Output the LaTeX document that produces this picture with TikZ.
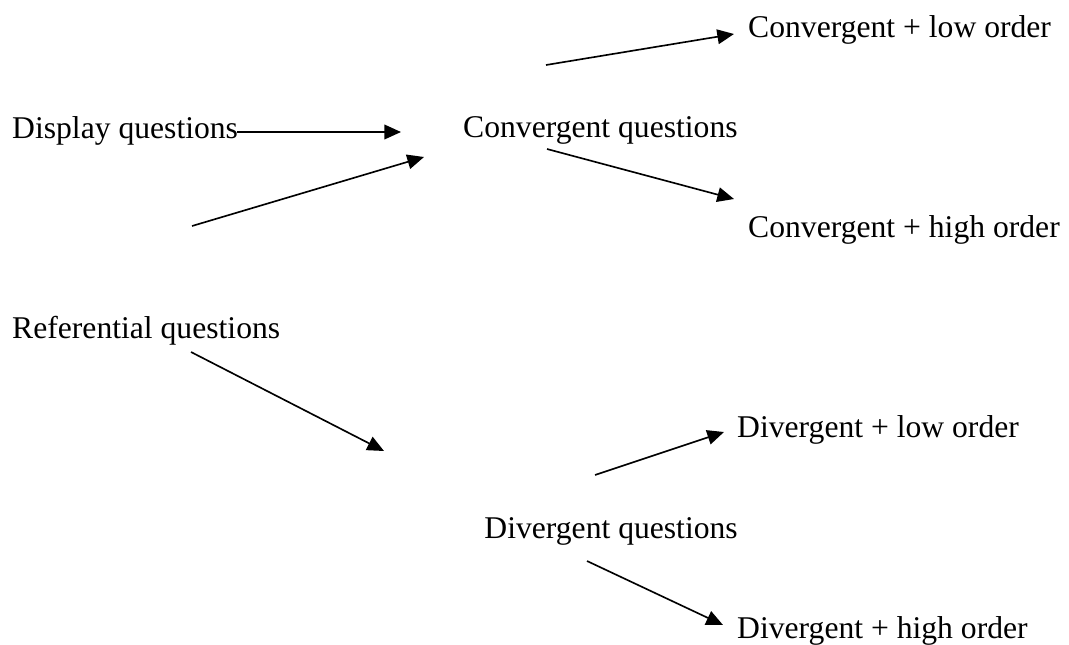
\documentclass[tikz,border=0pt]{standalone}
\usepackage{fontspec}
\setmainfont{Liberation Serif}
\usepackage{tikz}
\usetikzlibrary{arrows.meta,positioning}

\begin{document}
\begin{tikzpicture}[x=0.3mm, y=-0.3mm]
    \tikzstyle{lbl}=[anchor=base west, inner sep=0pt, font=\fontsize{27}{32}\selectfont]
    \tikzstyle{link}=[line width=1.4pt, -{Triangle[length=5mm, width=4.4mm]}]
    \useasboundingbox (0,0) rectangle (1069,644);
    % question types
    \node[lbl] (disp) at (12,138) {Display questions};
    \node[lbl] (ref) at (12,338) {Referential questions};
    \node[lbl] (conv) at (463,137) {Convergent questions};
    \node[lbl, anchor=base east] (div) at (738,538) {Divergent questions};
    \node[lbl] (convlow) at (748,37) {Convergent + low order};
    \node[lbl] (convhigh) at (748,237) {Convergent + high order};
    \node[lbl] (divlow) at (737,437) {Divergent + low order};
    \node[lbl] (divhigh) at (737,638) {Divergent + high order};
    % free arrow ends
    \coordinate (dispA) at (237,132);
    \coordinate (dispB) at (401,132);
    \coordinate (refA) at (192,226);
    \coordinate (refB) at (424,157);
    \coordinate (clA) at (546,65);
    \coordinate (clB) at (734,34);
    \coordinate (chA) at (547,149);
    \coordinate (chB) at (734,199);
    \coordinate (rdA) at (191,352);
    \coordinate (rdB) at (384,451);
    \coordinate (dlA) at (595,475);
    \coordinate (dlB) at (724,432);
    \coordinate (dhA) at (587,561);
    \coordinate (dhB) at (723,625);
    \draw[link] (dispA) -- (dispB);
    \draw[link] (refA) -- (refB);
    \draw[link] (clA) -- (clB);
    \draw[link] (chA) -- (chB);
    \draw[link] (rdA) -- (rdB);
    \draw[link] (dlA) -- (dlB);
    \draw[link] (dhA) -- (dhB);
\end{tikzpicture}
\end{document}
